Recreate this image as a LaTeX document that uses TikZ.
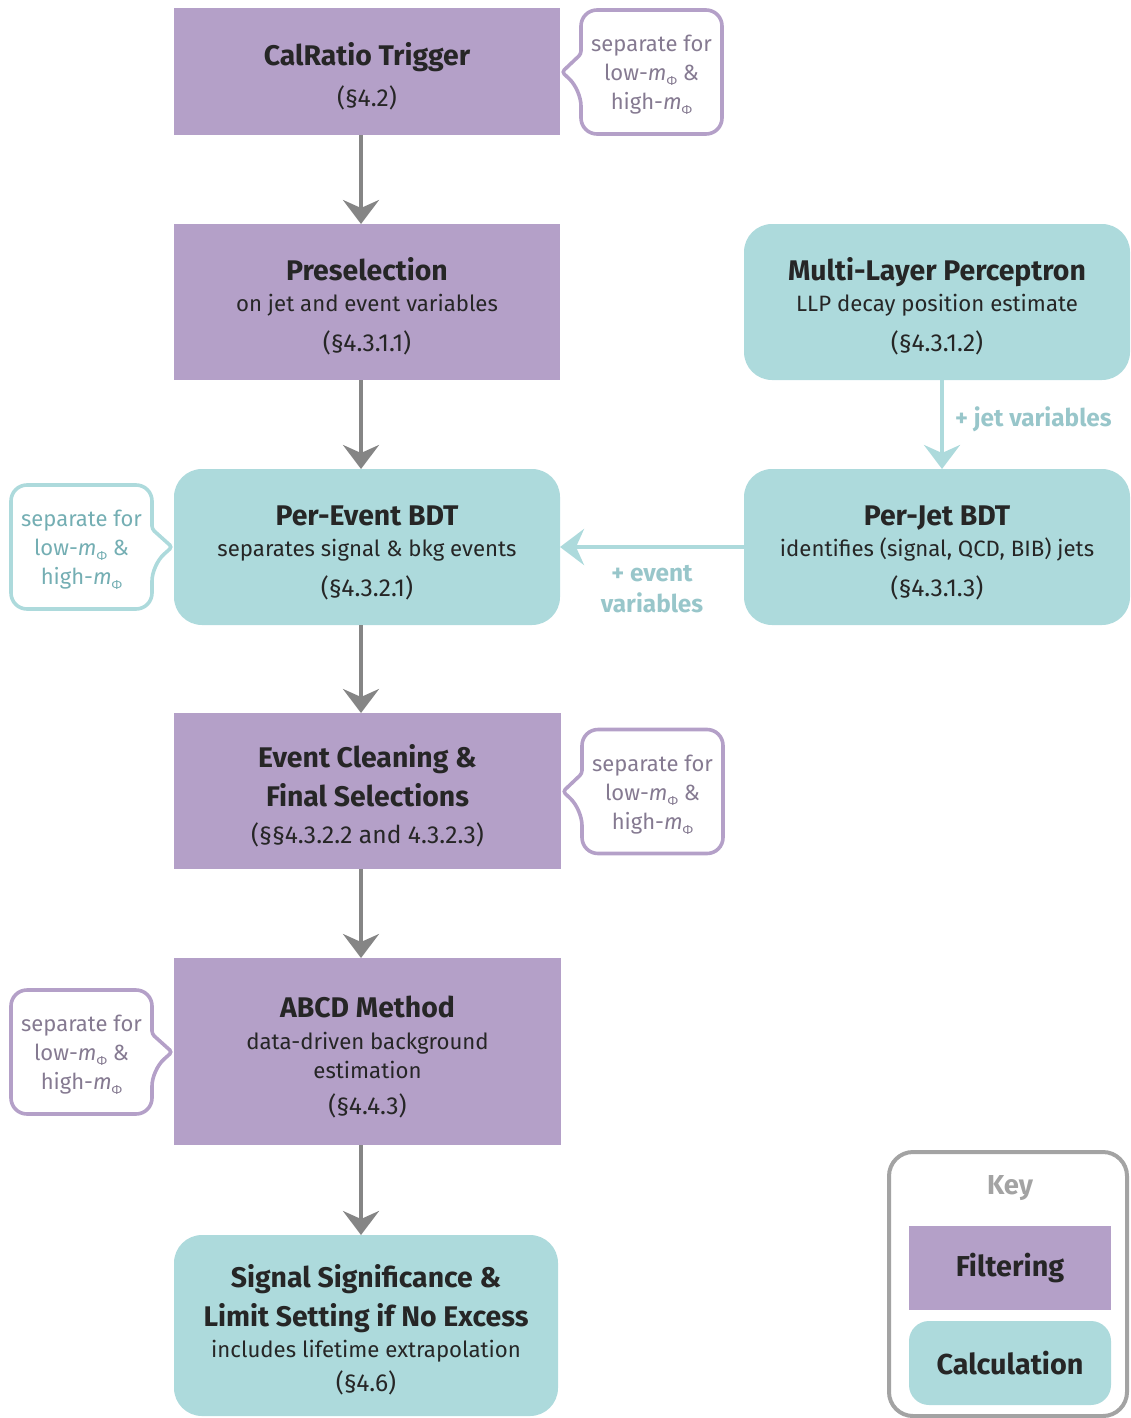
\documentclass[tikz,border=0pt]{standalone}
\usepackage{fontspec}
\setmainfont{Fira Sans}
\usetikzlibrary{arrows.meta,positioning,calc}
\definecolor{filt}{HTML}{B4A0C8}
\definecolor{calcteal}{HTML}{ADDADC}
\definecolor{flowgray}{HTML}{858585}
\definecolor{notepurple}{HTML}{857A91}
\definecolor{noteteal}{HTML}{74AEB3}
\definecolor{labelteal}{HTML}{98C6CA}
\definecolor{keygray}{HTML}{A3A3A3}
\definecolor{ink}{HTML}{262626}
\newcommand{\mphi}{\textit{m}\raisebox{-2.5pt}{\fontsize{6.5}{6.5}\selectfont Φ}}
\newcommand{\boxtitle}[1]{{\bfseries\fontsize{14.2}{16}\selectfont #1}}
\newcommand{\secref}[1]{{\fontsize{12.3}{14.5}\selectfont #1}}
\newcommand{\topgap}{\rule{0pt}{16pt}}
\newcommand{\notegap}{\rule{0pt}{11.3pt}}

\begin{document}
\begin{tikzpicture}[x=0.5pt,y=-0.5pt,
  every node/.style={font=\fontsize{11.1}{14.5}\selectfont,align=center,text=ink,inner sep=0pt,outer sep=0pt},
  filterbox/.style={fill=filt,minimum width=193pt,minimum height=78pt},
  calcbox/.style={fill=calcteal,rounded corners=14pt,minimum width=193pt,minimum height=78pt},
  note/.style={minimum width=70.5pt,minimum height=62pt,font=\fontsize{11}{14.5}\selectfont},
  noteline/.style={draw=#1,line width=1.8pt,rounded corners=8pt},
  flow/.style={draw=flowgray,line width=2pt,-{Stealth[length=12pt,width=18pt,inset=4pt]}},
  feed/.style={draw=calcteal,line width=2pt,-{Stealth[length=12pt,width=18pt,inset=4pt]}},
  feedlabel/.style={font=\bfseries\fontsize{12.2}{15.5}\selectfont,text=labelteal}]
\useasboundingbox (0,0) rectangle (1130,1418);
\coordinate (mainx) at (361,0);
\coordinate (jetx) at (942,0);

% main chain
\node[filterbox,minimum height=63.5pt] (trig) at (367,71.5) {\topgap\boxtitle{CalRatio Trigger}\\[6pt] \secref{(§4.2)}};
\node[filterbox] (presel) at (367,302) {\topgap\boxtitle{Preselection}\\[1pt] on jet and event variables\\[5.5pt] \secref{(§4.3.1.1)}};
\node[calcbox] (evbdt) at (367,547) {\topgap\boxtitle{Per-Event BDT}\\[1pt] separates signal \& bkg events\\[5.5pt] \secref{(§4.3.2.1)}};
\node[filterbox,minimum width=193.5pt] (clean) at (367.5,791) {\topgap\boxtitle{Event Cleaning \&}\\[4pt] \boxtitle{Final Selections}\\[4pt] \secref{(§§4.3.2.2 and 4.3.2.3)}};
\node[filterbox,minimum width=193.5pt,minimum height=93.5pt] (abcd) at (367.5,1051.5) {\topgap\boxtitle{ABCD Method}\\[1.5pt] data-driven background\\ estimation\\[3.5pt] \secref{(§4.4.3)}};
\node[calcbox,minimum width=192pt,minimum height=90.5pt] (signif) at (366,1325.5) {\topgap\boxtitle{Signal Significance \&}\\[4pt] \boxtitle{Limit Setting if No Excess}\\[1pt] includes lifetime extrapolation\\[2.5pt] \secref{(§4.6)}};

% jet side
\node[calcbox] (mlp) at (937,302) {\topgap\boxtitle{Multi-Layer Perceptron}\\[1pt] LLP decay position estimate\\[5.5pt] \secref{(§4.3.1.2)}};
\node[calcbox] (jetbdt) at (937,547) {\topgap\boxtitle{Per-Jet BDT}\\[1pt] identifies (signal, QCD, BIB) jets\\[5.5pt] \secref{(§4.3.1.3)}};

\draw[flow] (trig.south -| mainx) -- (presel.north -| mainx);
\draw[flow] (presel.south -| mainx) -- (evbdt.north -| mainx);
\draw[flow] (evbdt.south -| mainx) -- (clean.north -| mainx);
\draw[flow] (clean.south -| mainx) -- (abcd.north -| mainx);
\draw[flow] (abcd.south -| mainx) -- (signif.north -| mainx);
\draw[feed] (mlp.south -| jetx) -- node[feedlabel,right=6.5pt,pos=0.44] (jetlab) {+ jet variables} (jetbdt.north -| jetx);
\draw[feed] (jetbdt.west) -- node[feedlabel,below=9pt] (evlab) {+ event\\ variables} (evbdt.east);

% callouts
\node[note,text=notepurple] (trignote) at (651.5,72) {\notegap separate for\\ low-\mphi{} \&\\ high-\mphi};
\draw[noteline=filt] (trignote.north west) -- (trignote.north east) -- (trignote.south east) -- (trignote.south west) -- ($(trignote.west)+(0,18)$) [rounded corners=1.5pt] -- ($(trignote.west)+(-19,0)$) -- ($(trignote.west)+(0,-18)$) [rounded corners=8pt] -- cycle;
\node[note,text=noteteal] (evnote) at (81.5,547) {\notegap separate for\\ low-\mphi{} \&\\ high-\mphi};
\draw[noteline=calcteal] (evnote.north east) -- (evnote.north west) -- (evnote.south west) -- (evnote.south east) -- ($(evnote.east)+(0,18)$) [rounded corners=1.5pt] -- ($(evnote.east)+(20,0)$) -- ($(evnote.east)+(0,-18)$) [rounded corners=8pt] -- cycle;
\node[note,text=notepurple] (cleannote) at (652.5,791.5) {\notegap separate for\\ low-\mphi{} \&\\ high-\mphi};
\draw[noteline=filt] (cleannote.north west) -- (cleannote.north east) -- (cleannote.south east) -- (cleannote.south west) -- ($(cleannote.west)+(0,18)$) [rounded corners=1.5pt] -- ($(cleannote.west)+(-19,0)$) -- ($(cleannote.west)+(0,-18)$) [rounded corners=8pt] -- cycle;
\node[note,text=notepurple] (abcdnote) at (81.5,1052) {\notegap separate for\\ low-\mphi{} \&\\ high-\mphi};
\draw[noteline=filt] (abcdnote.north east) -- (abcdnote.north west) -- (abcdnote.south west) -- (abcdnote.south east) -- ($(abcdnote.east)+(0,18)$) [rounded corners=1.5pt] -- ($(abcdnote.east)+(20,0)$) -- ($(abcdnote.east)+(0,-18)$) [rounded corners=8pt] -- cycle;

% key
\node[draw=keygray,line width=2pt,rounded corners=12pt,minimum width=119pt,minimum height=132pt] (key) at (1008,1284) {};
\node[font=\bfseries\fontsize{13.7}{15}\selectfont,text=keygray] (keytitle) at (1010,1188) {Key};
\node[fill=filt,minimum width=101pt,minimum height=42pt,font=\bfseries\fontsize{14.4}{16}\selectfont] (keyfilt) at (1010,1268) {Filtering};
\node[fill=calcteal,rounded corners=10pt,minimum width=101pt,minimum height=42pt,font=\bfseries\fontsize{14.4}{16}\selectfont] (keycalc) at (1010,1363) {Calculation};
\end{tikzpicture}
\end{document}
